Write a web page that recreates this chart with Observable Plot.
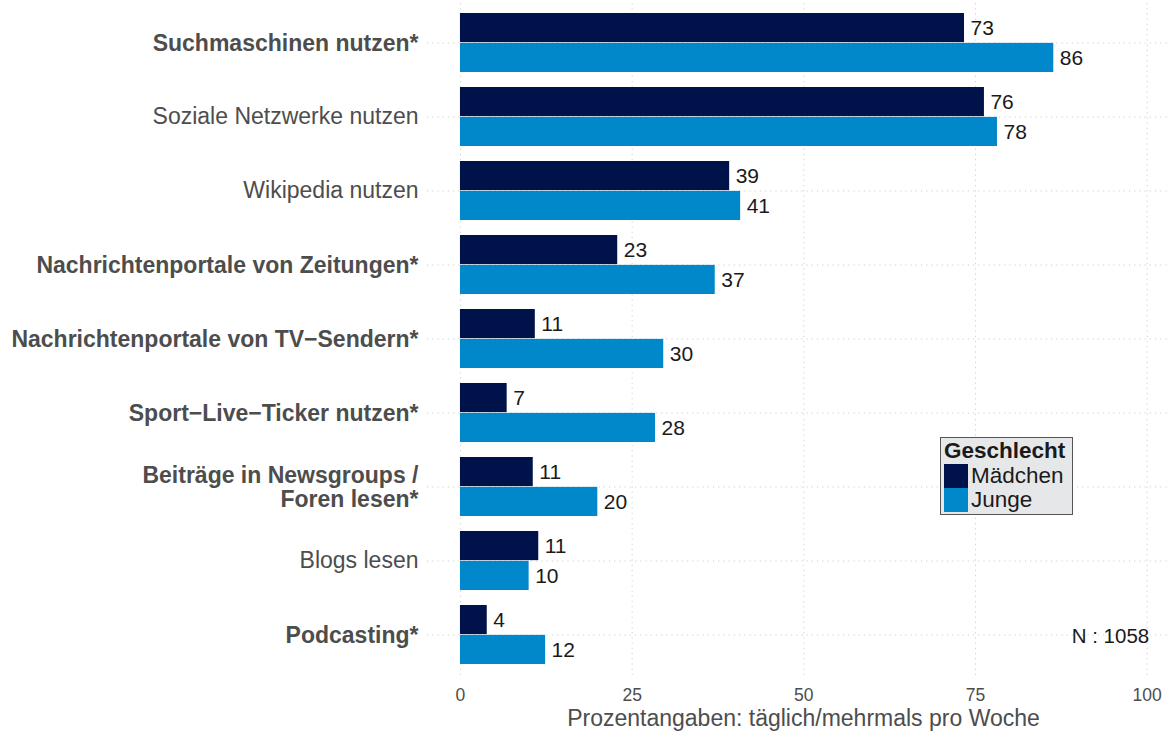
<!DOCTYPE html>
<html>
<head>
<meta charset="utf-8">
<script src="https://cdn.jsdelivr.net/npm/d3@7"></script>
<script src="https://cdn.jsdelivr.net/npm/@observablehq/plot@0.6"></script>
<style>
  html, body { margin: 0; padding: 0; background: #fff; }
  body { font-family: "Liberation Sans", Arial, Helvetica, sans-serif; }
  #wrap { position: relative; width: 1169px; height: 731px; }
  #legend {
    position: absolute; left: 940px; top: 437px; width: 131px; height: 76px;
    background: #e6e7e8; border: 1.5px solid #555; box-sizing: content-box;
    font-size: 22.5px; color: #1a1a1a; line-height: 24px; overflow: hidden;
  }
  #legend .title { font-weight: bold; padding-left: 3px; height: 26px; line-height: 26px; }
  #legend .row { display: flex; align-items: center; height: 24px; line-height: 24px; }
  #legend .sw { width: 24px; height: 24px; margin-left: 3px; margin-right: 3px; flex: none; }
</style>
</head>
<body>
<div id="wrap"></div>
<script>
const categories = [
  "Suchmaschinen nutzen*",
  "Soziale Netzwerke nutzen",
  "Wikipedia nutzen",
  "Nachrichtenportale von Zeitungen*",
  "Nachrichtenportale von TV\u2212Sendern*",
  "Sport\u2212Live\u2212Ticker nutzen*",
  "Beiträge in Newsgroups /\nForen lesen*",
  "Blogs lesen",
  "Podcasting*"
];
const maedchen = [73.4, 76.3, 39.2, 22.9, 10.9, 6.8, 10.6, 11.4, 3.9];
const junge    = [86.4, 78.2, 40.8, 37.1, 29.6, 28.4, 20.0, 10.0, 12.4];
const groups = ["Mädchen", "Junge"];
const colors = ["#00124a", "#0088cb"];
const xTicks = [0, 25, 50, 75, 100];
const xTitle = "Prozentangaben: täglich/mehrmals pro Woche";
const nNote = "N : 1058";

const boldCats = categories.filter(c => c.includes("*"));
const plainCats = categories.filter(c => !c.includes("*"));

const dataM = categories.map((c, i) => ({cat: c, value: maedchen[i], g: groups[0]}));
const dataJ = categories.map((c, i) => ({cat: c, value: junge[i], g: groups[1]}));

const W = 1169, H = 731, mt = 3, mb = 56, ml = 427, mr = 0;
const yOpts = {type: "band", domain: categories, paddingInner: 0.2, paddingOuter: 0.1};
const yScale = Plot.scale({y: {...yOpts, range: [mt, H - mb]}});
const bw = yScale.bandwidth;
const fmt = d3.format(".0f");
const font = "'Liberation Sans', Arial, Helvetica, sans-serif";
const gridStyle = {stroke: "#cfcfcf", strokeWidth: 1, strokeDasharray: "1.2,4"};

const chart = Plot.plot({
  width: W, height: H,
  marginLeft: ml, marginRight: mr, marginTop: mt, marginBottom: mb,
  style: {fontFamily: font, background: "transparent"},
  x: {domain: [-4.8, 103.25]},
  y: yOpts,
  color: {domain: groups, range: colors},
  marks: [
    Plot.ruleX(xTicks, {...gridStyle}),
    Plot.ruleY(categories, {...gridStyle}),
    Plot.barX(dataM, {x1: 0, x2: "value", y: "cat", fill: "g", insetBottom: bw / 2}),
    Plot.barX(dataJ, {x1: 0, x2: "value", y: "cat", fill: "g", insetTop: bw / 2}),
    Plot.text(dataM, {x: "value", y: "cat", text: d => fmt(d.value), dy: -bw / 4, dx: 6, textAnchor: "start", fontSize: 21, fill: "#1a1a1a"}),
    Plot.text(dataJ, {x: "value", y: "cat", text: d => fmt(d.value), dy: bw / 4, dx: 6, textAnchor: "start", fontSize: 21, fill: "#1a1a1a"}),
    Plot.text([{x: xTicks[xTicks.length - 1], y: categories[categories.length - 1], t: nNote}], {x: "x", y: "y", text: "t", textAnchor: "end", dx: 2, dy: 1, fontSize: 20.5, fill: "#1a1a1a"}),
    Plot.axisY({ticks: boldCats, tickSize: 0, tickPadding: 9, fontSize: 23, fontWeight: "bold", color: "#4d4d4d", label: null, lineHeight: 1.08}),
    Plot.axisY({ticks: plainCats, tickSize: 0, tickPadding: 9, fontSize: 23, color: "#4d4d4d", label: null}),
    Plot.axisX({ticks: xTicks, tickSize: 0, tickPadding: 13, fontSize: 17.5, color: "#4d4d4d", label: null}),
    Plot.text([xTitle], {frameAnchor: "bottom", lineAnchor: "middle", dy: 43, dx: 5, fontSize: 23, fill: "#4d4d4d"})
  ]
});
const wrap = document.getElementById("wrap");
wrap.appendChild(chart);

const legend = document.createElement("div");
legend.id = "legend";
legend.innerHTML = `<div class="title">Geschlecht</div>` +
  groups.map((g, i) => `<div class="row"><div class="sw" style="background:${colors[i]}"></div><span>${g}</span></div>`).join("");
wrap.appendChild(legend);
</script>
</body>
</html>
